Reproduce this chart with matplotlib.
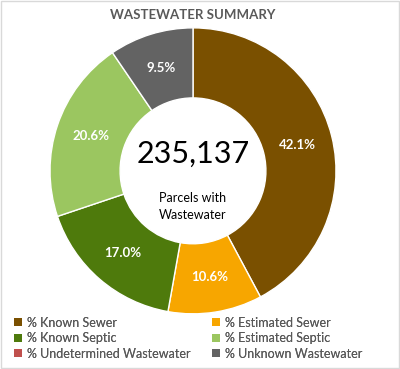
import numpy as np
import matplotlib.pyplot as plt
from matplotlib.patches import Patch, Rectangle

categories = [
    "% Known Sewer",
    "% Estimated Sewer",
    "% Known Septic",
    "% Estimated Septic",
    "% Undetermined Wastewater",
    "% Unknown Wastewater",
]
values = [42.1, 10.6, 17.0, 20.6, 0.0, 9.5]
colors = ["#7A5000", "#F7A600", "#4E7A0C", "#9BC660", "#C0504D", "#636363"]
total_parcels = 235137

plt.rcParams["font.family"] = ["Lato", "DejaVu Sans"]

fig = plt.figure(figsize=(4.0, 3.69), dpi=100)
fig.patches.append(Rectangle((0.002, 0.002), 0.995, 0.995, transform=fig.transFigure,
                             fill=False, edgecolor="#D9D9D9", linewidth=1))

ax = fig.add_axes([0.4825 - 0.3575, 0.537 - 0.3875, 0.715, 0.775])
plot_vals = [v for v in values if v > 0]
plot_cols = [c for v, c in zip(values, colors) if v > 0]
wedges, _ = ax.pie(
    plot_vals,
    colors=plot_cols,
    startangle=90,
    counterclock=False,
    wedgeprops={"width": 0.49, "edgecolor": "white", "linewidth": 1},
)
ax.set_xlim(-1, 1)
ax.set_ylim(-1, 1)
ax.set_aspect("equal")

# percentage labels at the middle of each ring segment
for w, v in zip(wedges, plot_vals):
    ang = np.deg2rad((w.theta1 + w.theta2) / 2)
    r = 0.755
    ax.text(r * np.cos(ang), r * np.sin(ang), f"{v:.1f}%", ha="center", va="center",
            color="white", fontsize=9.5, fontweight="bold")

ax.text(0, 0.12, f"{total_parcels:,}", ha="center", va="center", fontsize=22, color="black")
ax.text(0, -0.25, "Parcels with\nWastewater", ha="center", va="center", fontsize=9,
        color="black", linespacing=1.45)

fig.text(0.4825, 0.96, "WASTEWATER SUMMARY", ha="center", va="center",
         fontsize=9.5, fontweight="bold", color="#595959")

handles = [Patch(facecolor=c, edgecolor="none") for c in colors]
legend_kw = dict(
    loc="lower left",
    frameon=False,
    fontsize=9,
    labelcolor="#595959",
    handlelength=0.6,
    handleheight=0.6,
    handletextpad=0.45,
    labelspacing=0.28,
    borderaxespad=0,
    borderpad=0,
)
for cols, x0 in [([0, 2, 4], 0.035), ([1, 3, 5], 0.53)]:
    leg = fig.legend([handles[i] for i in cols], [categories[i] for i in cols],
                     bbox_to_anchor=(x0, 0.025), **legend_kw)
    fig.add_artist(leg)

fig.savefig("out.png", dpi=100)
